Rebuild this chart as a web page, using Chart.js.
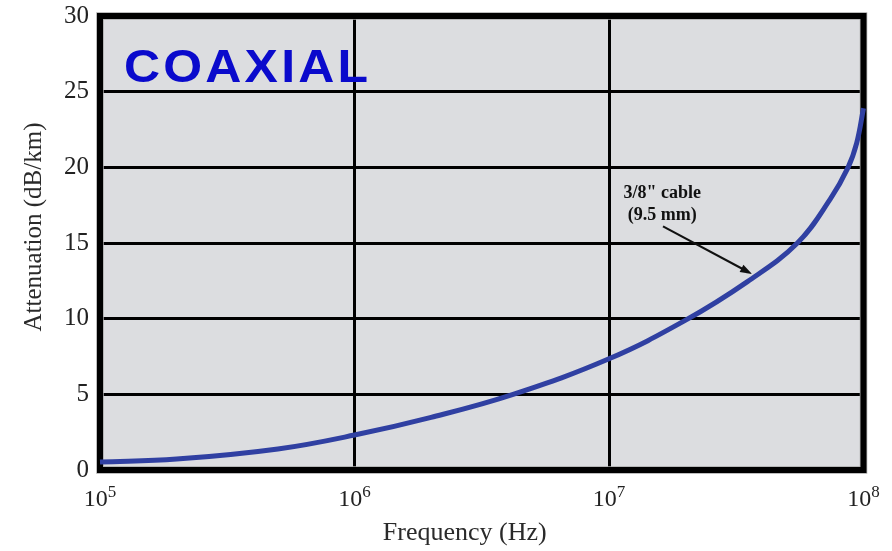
<!DOCTYPE html>
<html>
<head>
<meta charset="utf-8">
<title>Coaxial cable attenuation</title>
<script src="https://cdn.jsdelivr.net/npm/chart.js@4.4.1/dist/chart.umd.min.js"></script>
<style>
  html, body { margin: 0; padding: 0; background: #ffffff; }
  #wrap { width: 892px; height: 551px; position: relative; }
  canvas { display: block; }
</style>
</head>
<body>
<div id="wrap"><canvas id="chart" width="892" height="551"></canvas></div>
<script>
// Attenuation of a 3/8" (9.5 mm) coaxial cable versus frequency
const freqHz = [1e5, 2e5, 5e5, 1e6, 2e6, 4.2e6, 1e7, 2e7, 3.5e7, 5.5e7, 7.4e7, 8.7e7, 9.4e7, 1e8];
const attenuationDbKm = [0.53, 0.72, 1.39, 2.31, 3.48, 5.0, 7.35, 9.9, 12.45, 15.0, 17.9, 20.0, 21.6, 23.9];

// Axis ticks
const xTickValues = [1e5, 1e6, 1e7, 1e8];
const xTickBase = '10';
const xTickExponents = ['5', '6', '7', '8'];
const yTickValues = [0, 5, 10, 15, 20, 25, 30];

// Texts
const panelLabel = 'COAXIAL';
const cableLabelLines = ['3/8" cable', '(9.5 mm)'];
const xTitle = 'Frequency (Hz)';
const yTitle = 'Attenuation (dB/km)';

// Callout anchor (text position and arrow) in data units
const calloutText = { x: 1.62e7, y: 18.0 };
const calloutArrowFrom = { x: 1.63e7, y: 16.1 };
const calloutArrowTo = { x: 3.65e7, y: 12.95 };

const SERIF = '"Liberation Serif", "Times New Roman", serif';
const SANS = '"Liberation Sans", Arial, sans-serif';

const points = freqHz.map((f, i) => ({ x: f, y: attenuationDbKm[i] }));

const decorPlugin = {
  id: 'decor',
  beforeDraw(chart) {
    const { ctx, chartArea: a } = chart;
    ctx.save();
    ctx.fillStyle = '#ffffff';
    ctx.fillRect(0, 0, chart.width, chart.height);
    ctx.fillStyle = '#dcdde0';
    ctx.fillRect(a.left, a.top, a.right - a.left, a.bottom - a.top);
    ctx.restore();
  },
  beforeDatasetsDraw(chart) {
    const { ctx, chartArea: a } = chart;
    ctx.save();
    // soft grey halo just outside the frame
    ctx.strokeStyle = '#a8a8a8';
    ctx.lineWidth = 7.5;
    ctx.strokeRect(a.left, a.top, a.right - a.left, a.bottom - a.top);
    ctx.strokeStyle = '#000000';
    ctx.lineWidth = 6;
    ctx.strokeRect(a.left, a.top, a.right - a.left, a.bottom - a.top);
    ctx.restore();
  },
  afterDraw(chart) {
    const { ctx, chartArea: a } = chart;
    const xs = chart.scales.x, ys = chart.scales.y;
    ctx.save();

    // x tick labels: 10 with a raised exponent
    ctx.fillStyle = '#222222';
    ctx.textBaseline = 'alphabetic';
    ctx.textAlign = 'left';
    xTickValues.forEach((v, i) => {
      const px = xs.getPixelForValue(v);
      ctx.font = '24px ' + SERIF;
      const wb = ctx.measureText(xTickBase).width;
      ctx.font = '17px ' + SERIF;
      const we = ctx.measureText(xTickExponents[i]).width;
      const x0 = px - (wb + we) / 2;
      ctx.font = '24px ' + SERIF;
      ctx.fillText(xTickBase, x0, a.bottom + 36);
      ctx.font = '17px ' + SERIF;
      ctx.fillText(xTickExponents[i], x0 + wb, a.bottom + 27);
    });

    // axis titles
    ctx.fillStyle = '#2a2a2a';
    ctx.font = '26px ' + SERIF;
    ctx.textAlign = 'center';
    ctx.fillText(xTitle, (a.left + a.right) / 2 - 17, a.bottom + 70);
    ctx.save();
    ctx.translate(41, 227);
    ctx.rotate(-Math.PI / 2);
    ctx.font = '25px ' + SERIF;
    ctx.fillText(yTitle, 0, 0);
    ctx.restore();

    // panel label
    ctx.font = 'bold 47px ' + SANS;
    ctx.fillStyle = '#0a0acc';
    ctx.textAlign = 'left';
    const chars = panelLabel.split('');
    const gap = 3;
    let natural = 0;
    chars.forEach(c => { natural += ctx.measureText(c).width; });
    natural += gap * (chars.length - 1);
    const targetW = 244;
    ctx.save();
    ctx.translate(a.left + 24, a.top + 66);
    ctx.scale(targetW / natural, 1);
    let cx = 0;
    chars.forEach(c => {
      ctx.fillText(c, cx, 0);
      cx += ctx.measureText(c).width + gap;
    });
    ctx.restore();

    // cable callout
    ctx.fillStyle = '#111111';
    ctx.font = 'bold 18px ' + SERIF;
    ctx.textAlign = 'center';
    const tx = xs.getPixelForValue(calloutText.x);
    const ty = ys.getPixelForValue(calloutText.y);
    ctx.fillText(cableLabelLines[0], tx, ty);
    ctx.fillText(cableLabelLines[1], tx, ty + 22);

    const x1 = xs.getPixelForValue(calloutArrowFrom.x), y1 = ys.getPixelForValue(calloutArrowFrom.y);
    const x2 = xs.getPixelForValue(calloutArrowTo.x), y2 = ys.getPixelForValue(calloutArrowTo.y);
    const ang = Math.atan2(y2 - y1, x2 - x1);
    const headLen = 12, headW = 4;
    ctx.strokeStyle = '#111111';
    ctx.lineWidth = 2;
    ctx.beginPath();
    ctx.moveTo(x1, y1);
    ctx.lineTo(x2 - headLen * Math.cos(ang) * 0.8, y2 - headLen * Math.sin(ang) * 0.8);
    ctx.stroke();
    ctx.beginPath();
    ctx.moveTo(x2, y2);
    ctx.lineTo(x2 - headLen * Math.cos(ang) + headW * Math.sin(ang), y2 - headLen * Math.sin(ang) - headW * Math.cos(ang));
    ctx.lineTo(x2 - headLen * Math.cos(ang) - headW * Math.sin(ang), y2 - headLen * Math.sin(ang) + headW * Math.cos(ang));
    ctx.closePath();
    ctx.fillStyle = '#111111';
    ctx.fill();

    ctx.restore();
  }
};

new Chart(document.getElementById('chart'), {
  type: 'line',
  data: {
    datasets: [{
      data: points,
      borderColor: '#3040a2',
      borderWidth: 5,
      pointRadius: 0,
      fill: false,
      tension: 0.4,
      clip: 6
    }]
  },
  options: {
    responsive: false,
    animation: false,
    layout: { padding: { left: 0, top: 16, right: 28.5, bottom: 0 } },
    plugins: {
      legend: { display: false },
      tooltip: { enabled: false },
      title: { display: false }
    },
    scales: {
      x: {
        type: 'logarithmic',
        min: xTickValues[0],
        max: xTickValues[xTickValues.length - 1],
        afterBuildTicks(scale) {
          scale.ticks = xTickValues.map(v => ({ value: v }));
        },
        afterFit(scale) {
          scale.height = 81;
          scale.paddingLeft = 0;
          scale.paddingRight = 0;
        },
        grid: { color: '#000000', lineWidth: 3, drawTicks: false },
        border: { display: false },
        ticks: { display: false }
      },
      y: {
        min: yTickValues[0],
        max: yTickValues[yTickValues.length - 1],
        afterBuildTicks(scale) {
          scale.ticks = yTickValues.map(v => ({ value: v }));
        },
        afterFit(scale) {
          scale.width = 100;
          scale.paddingTop = 0;
          scale.paddingBottom = 0;
        },
        grid: { color: '#000000', lineWidth: 3, drawTicks: false },
        border: { display: false },
        ticks: {
          padding: 11,
          color: '#222222',
          font: { family: SERIF, size: 25 }
        }
      }
    }
  },
  plugins: [decorPlugin]
});
</script>
</body>
</html>
